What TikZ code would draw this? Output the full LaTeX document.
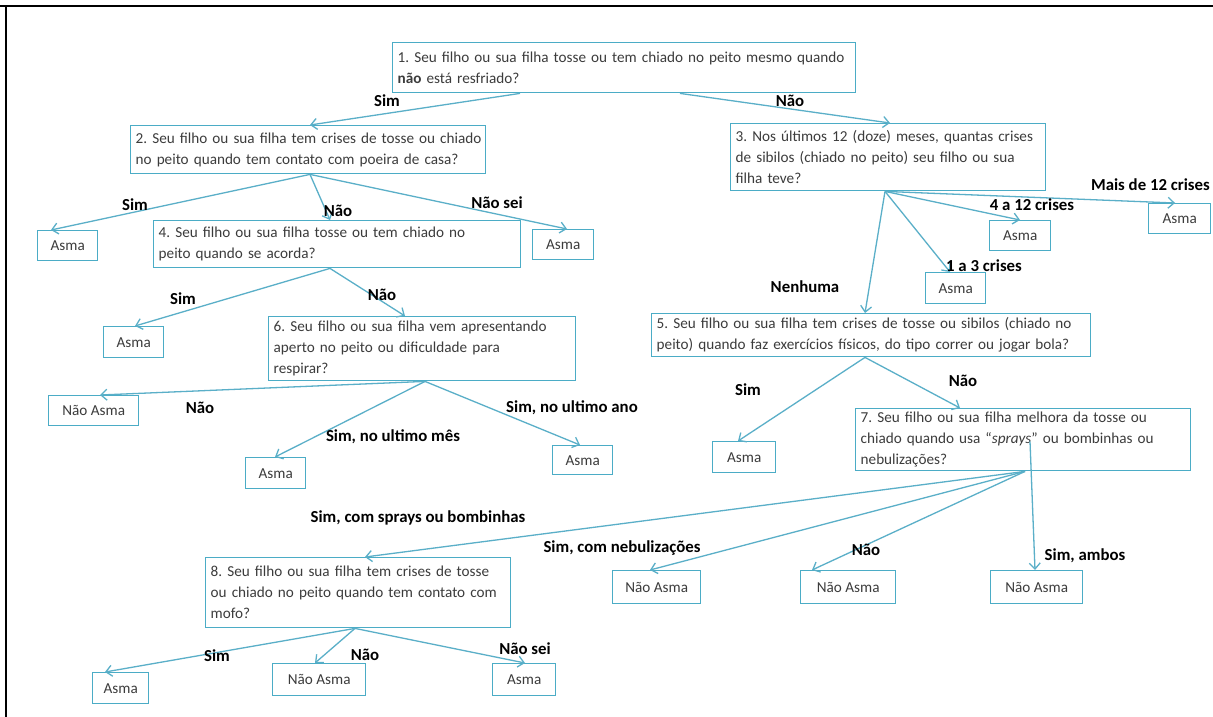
\documentclass[tikz,border=0pt]{standalone}
\usepackage{fontspec}
\setmainfont{Carlito}
\usetikzlibrary{arrows.meta,calc}
\definecolor{boxc}{HTML}{4BACC6}
\definecolor{arrc}{HTML}{5AAFC8}
\definecolor{txt}{HTML}{3C3C3C}
\frenchspacing
\begin{document}
\begin{tikzpicture}[x=1pt,y=-1pt,
 qbox/.style={draw=boxc, line width=1.4pt, anchor=north west, align=left, inner xsep=5pt, inner ysep=2pt, font=\fontsize{15.2}{21}\selectfont, text=txt},
 abox/.style={draw=boxc, line width=1.4pt, anchor=north west, align=center, inner sep=0pt, font=\fontsize{15.2}{18}\selectfont, text=txt},
 lbl/.style={font=\bfseries\fontsize{16.8}{18}\selectfont, text=black, inner sep=0pt},
 conn/.style={draw=arrc, line width=1.3pt, -{Straight Barb[length=6pt,width=11pt]}}]
\useasboundingbox (0,0) rectangle (1213,717);
\fill[white] (0,0) rectangle (1213,717);
\draw[line width=1.5pt] (0,6) -- (1213,6);
\draw[line width=1.5pt] (6,6) -- (6,717);

% question boxes
\node[qbox, minimum width=463pt, minimum height=50pt, text width=453pt] (b1) at (392,42)
 {\mbox{1. Seu filho ou sua filha  tosse ou tem chiado no peito mesmo quando}\\\mbox{\textbf{não} está resfriado?}};
\node[qbox, minimum width=355pt, minimum height=48pt, text width=345pt] (b2) at (130,125)
 {\mbox{2. Seu filho ou sua filha  tem crises de tosse ou chiado}\\\mbox{no peito  quando tem contato com poeira de casa?}};
\node[qbox, minimum width=315pt, minimum height=67pt, text width=305pt] (b3) at (730,123)
 {\mbox{3. Nos últimos 12 (doze) meses, quantas crises}\\\mbox{de sibilos (chiado no peito) seu filho ou sua}\\\mbox{filha  teve?}};
\node[qbox, minimum width=367pt, minimum height=47pt, text width=357pt] (b4) at (153,220)
 {\mbox{4. Seu filho ou sua filha  tosse ou tem chiado no}\\\mbox{peito quando se acorda?}};
\node[qbox, minimum width=439pt, minimum height=43pt, text width=429pt] (b5) at (651,313)
 {\mbox{5. Seu filho ou sua filha  tem crises de tosse ou sibilos (chiado no}\\\mbox{peito) quando faz exercícios físicos, do tipo correr ou jogar bola?}};
\node[qbox, minimum width=307pt, minimum height=64pt, text width=297pt] (b6) at (268,316)
 {\mbox{6. Seu filho ou sua filha vem apresentando}\\\mbox{aperto no peito ou dificuldade para}\\\mbox{respirar?}};
\node[qbox, minimum width=335pt, minimum height=62pt, text width=325pt] (b7) at (855,408)
 {\mbox{7. Seu filho ou sua filha  melhora da tosse ou}\\\mbox{chiado quando usa “\textit{sprays}” ou bombinhas ou}\\\mbox{nebulizações?}};
\node[qbox, minimum width=305pt, minimum height=70pt, text width=295pt] (b8) at (205,557)
 {\mbox{8. Seu filho ou sua filha  tem crises de tosse}\\\mbox{ou chiado no peito quando tem contato com}\\\mbox{mofo?}};

% answer boxes
\node[abox, minimum width=60pt, minimum height=30pt] (aA) at (37,230) {Asma};
\node[abox, minimum width=61pt, minimum height=30pt] (aB) at (532,229) {Asma};
\node[abox, minimum width=62pt, minimum height=30pt] (aC) at (1148,203) {Asma};
\node[abox, minimum width=61pt, minimum height=30pt] (aD) at (989,220) {Asma};
\node[abox, minimum width=60pt, minimum height=31pt] (aE) at (925,272) {Asma};
\node[abox, minimum width=60pt, minimum height=31pt] (aF) at (103,326) {Asma};
\node[abox, minimum width=90pt, minimum height=30pt] (nG) at (48,395) {Não  Asma};
\node[abox, minimum width=60pt, minimum height=31pt] (aH) at (245,457) {Asma};
\node[abox, minimum width=60pt, minimum height=29pt] (aI) at (552,445) {Asma};
\node[abox, minimum width=63pt, minimum height=31pt] (aJ) at (712,441) {Asma};
\node[abox, minimum width=88pt, minimum height=33pt] (nK) at (612,570) {Não  Asma};
\node[abox, minimum width=95pt, minimum height=33pt] (nL) at (800,570) {Não  Asma};
\node[abox, minimum width=92pt, minimum height=33pt] (nM) at (990,570) {Não  Asma};
\node[abox, minimum width=56pt, minimum height=31pt] (aN) at (92,672) {Asma};
\node[abox, minimum width=93pt, minimum height=32pt] (nO) at (272,663) {Não  Asma};
\node[abox, minimum width=63pt, minimum height=32pt] (aP) at (492,663) {Asma};

% connectors
\draw[conn] ($(b1.south west)+(128,0)$) -- ($(b2.north west)+(180,0)$);
\draw[conn] ($(b1.south west)+(288,0)$) -- ($(b3.north west)+(160,0)$);
\coordinate (s2) at ($(b2.south west)+(180,0)$);
\draw[conn] (s2) -- ($(aA.north west)+(14,0)$);
\draw[conn] (s2) -- ($(b4.north west)+(177,0)$);
\draw[conn] (s2) -- ($(aB.north west)+(35,0)$);
\coordinate (s3) at ($(b3.south west)+(155,0)$);
\draw[conn] (s3) -- ($(aC.north west)+(27,0)$);
\draw[conn] (s3) -- ($(aD.north west)+(31,0)$);
\draw[conn] (s3) -- ($(aE.north west)+(25,0)$);
\draw[conn] (s3) -- ($(b5.north west)+(214,0)$);
\coordinate (s4) at ($(b4.south west)+(177,0)$);
\draw[conn] (s4) -- ($(aF.north west)+(32,0)$);
\draw[conn] (s4) -- ($(b6.north west)+(137,0)$);
\coordinate (s6) at ($(b6.south west)+(157,0)$);
\draw[conn] (s6) -- ($(nG.north west)+(52,0)$);
\draw[conn] (s6) -- ($(aH.north west)+(30,0)$);
\draw[conn] (s6) -- ($(aI.north west)+(28,0)$);
\coordinate (s5) at ($(b5.south west)+(214,0)$);
\draw[conn] (s5) -- ($(aJ.north west)+(26,0)$);
\draw[conn] (s5) -- ($(b7.north west)+(105,0)$);
\coordinate (s7) at ($(b7.south west)+(170,0)$);
\draw[conn] (s7) -- ($(b8.north west)+(160,0)$);
\draw[conn] (s7) -- ($(nK.north west)+(38,0)$);
\draw[conn] (s7) -- ($(nL.north west)+(12,0)$);
\draw[conn] ($(b7.south west)+(175,-30)$) -- ($(nM.north west)+(45,0)$);
\coordinate (s8) at ($(b8.south west)+(150,0)$);
\draw[conn] (s8) -- ($(aN.north west)+(13,0)$);
\draw[conn] (s8) -- ($(nO.north west)+(43,0)$);
\draw[conn] (s8) -- ($(aP.north west)+(33,0)$);

% labels
\node[lbl] (l1) at (387,101) {Sim};
\node[lbl] (l2) at (790,101) {Não};
\node[lbl] (l3) at (135,205) {Sim};
\node[lbl] (l4) at (338,211) {Não};
\node[lbl] (l5) at (497,203) {Não sei};
\node[lbl, anchor=east] (l6) at (1210,185) {Mais de 12 crises};
\node[lbl] (l7) at (1032,205) {4 a 12 crises};
\node[lbl] (l8) at (984,266) {1 a 3 crises};
\node[lbl] (l9) at (805,287) {Nenhuma};
\node[lbl] (l10) at (183,299) {Sim};
\node[lbl] (l11) at (382,295) {Não};
\node[lbl] (l12) at (200,408) {Não};
\node[lbl] (l13) at (393,437) {Sim, no ultimo mês};
\node[lbl] (l14) at (572,408) {Sim, no ultimo ano};
\node[lbl] (l15) at (748,390) {Sim};
\node[lbl] (l16) at (963,381) {Não};
\node[lbl] (l17) at (418,518) {Sim, com sprays ou bombinhas};
\node[lbl] (l18) at (622,548) {Sim, com nebulizações};
\node[lbl] (l19) at (866,550) {Não};
\node[lbl] (l20) at (1085,556) {Sim, ambos};
\node[lbl] (l21) at (217,656) {Sim};
\node[lbl] (l22) at (365,655) {Não};
\node[lbl] (l23) at (525,649) {Não sei};
\end{tikzpicture}
\end{document}
